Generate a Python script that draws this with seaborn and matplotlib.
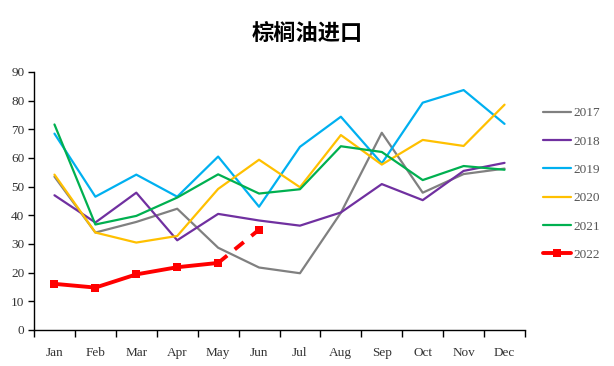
import numpy as np
import pandas as pd
import matplotlib
matplotlib.use("Agg")
import matplotlib.pyplot as plt
import seaborn as sns
from matplotlib.lines import Line2D

months = ["Jan", "Feb", "Mar", "Apr", "May", "Jun", "Jul", "Aug", "Sep", "Oct", "Nov", "Dec"]
y2017 = [53.5, 34.0, 37.7, 42.3, 28.7, 21.8, 19.8, 40.9, 68.8, 47.9, 54.4, 56.3]
y2018 = [47.0, 37.5, 47.9, 31.3, 40.5, 38.2, 36.4, 41.0, 50.9, 45.3, 55.5, 58.3]
y2019 = [68.5, 46.5, 54.2, 46.5, 60.5, 43.0, 63.9, 74.4, 58.1, 79.3, 83.7, 71.9]
y2020 = [54.2, 34.0, 30.5, 32.8, 49.2, 59.4, 49.8, 68.0, 57.7, 66.3, 64.2, 78.6]
y2021 = [71.7, 36.8, 39.8, 46.2, 54.3, 47.6, 49.1, 64.1, 62.1, 52.3, 57.2, 55.9]
y2022 = [16.1, 14.8, 19.4, 21.9, 23.4, 35.0]
years = ["2017", "2018", "2019", "2020", "2021", "2022"]
colors = ["#808080", "#7030A0", "#00B0F0", "#FFC000", "#00B050", "#FF0000"]
title = "棕榈油进口"

sns.set_theme(style="white")
plt.rcParams["font.family"] = ["Liberation Serif", "Noto Sans CJK SC", "DejaVu Sans"]

fig = plt.figure(figsize=(6.14, 3.66), dpi=100)
ax = fig.add_axes([34/614, 1-330/366, (525-34)/614, (330-72)/366])

x = np.arange(12)
for yr, vals, c in zip(years[:5], [y2017, y2018, y2019, y2020, y2021], colors[:5]):
    df = pd.DataFrame({"x": x, "y": vals})
    sns.lineplot(data=df, x="x", y="y", ax=ax, color=c, lw=1.6)

# 2022: solid Jan-May, dashed May-Jun
df22 = pd.DataFrame({"x": x[:5], "y": y2022[:5]})
sns.lineplot(data=df22, x="x", y="y", ax=ax, color=colors[5], lw=2.8,
             marker="s", markersize=6, markeredgewidth=0)
df22b = pd.DataFrame({"x": x[4:6], "y": y2022[4:6]})
sns.lineplot(data=df22b, x="x", y="y", ax=ax, color=colors[5], lw=2.8,
             linestyle=(0, (3, 2.5)))
ax.plot([x[5]], [y2022[5]], marker="s", markersize=6, color=colors[5], markeredgewidth=0, ls="none")

ax.set_xlim(-0.5, 11.5)
ax.set_ylim(0, 90)
ax.set_yticks(range(0, 91, 10))
ax.set_xticks(x)
ax.set_xticklabels(months)
ax.set_xticks(np.arange(-0.5, 12, 1), minor=True)
ax.tick_params(axis="x", which="major", length=0, pad=12, labelsize=9.5, labelcolor="#333333")
ax.tick_params(axis="x", which="minor", length=5, width=1, color="black", direction="out", bottom=True)
ax.tick_params(axis="y", which="major", length=4, width=1, color="black", direction="out", left=True,
               labelsize=9.5, labelcolor="#333333", pad=3)
ax.set_xlabel("")
ax.set_ylabel("")
for s in ["top", "right"]:
    ax.spines[s].set_visible(False)
for s in ["left", "bottom"]:
    ax.spines[s].set_color("black")
    ax.spines[s].set_linewidth(1)
ax.grid(False)

handles = []
for i, (yr, c) in enumerate(zip(years, colors)):
    if i == 5:
        handles.append(Line2D([], [], color=c, lw=2.8, marker="s", markersize=6, markeredgewidth=0))
    else:
        handles.append(Line2D([], [], color=c, lw=1.6))
leg = fig.legend(handles, years, loc="upper left", bbox_to_anchor=(543/614, 1-107/366),
                 frameon=False, fontsize=9.5, labelspacing=1.22, handlelength=2.1,
                 handletextpad=0.2, borderaxespad=0, borderpad=0)
for t in leg.get_texts():
    t.set_color("#555555")

fig.text(0.5, 1-33/366, title, ha="center", va="center", fontsize=16, fontweight="bold",
         color="black", family=["Noto Sans CJK SC", "DejaVu Sans"])

fig.savefig("out.png", dpi=100)
